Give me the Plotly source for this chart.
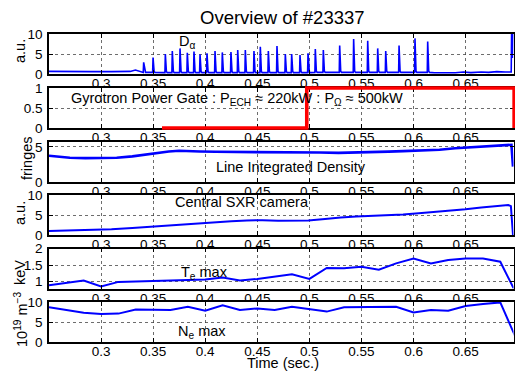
import plotly.graph_objects as go

# ---------------- data ----------------
x_tick_vals = [0.3, 0.35, 0.4, 0.45, 0.5, 0.55, 0.6, 0.65]
x_tick_text = ["0.3", "0.35", "0.4", "0.45", "0.5", "0.55", "0.6", "0.65"]

# D-alpha: baseline samples and ELM spikes
dalpha_base_t = [0.250, 0.262, 0.268, 0.272, 0.290, 0.310, 0.328, 0.333, 0.336, 0.339,
                 0.360, 0.400, 0.450, 0.500, 0.550, 0.600, 0.620, 0.640, 0.648,
                 0.655, 0.665, 0.672, 0.680, 0.688, 0.6938, 0.6942, 0.6950, 0.6955, 0.6965]
dalpha_base_v = [0.65, 0.6, 0.75, 0.6, 0.6, 0.6, 0.65, 1.0, 0.7, 0.4,
                 0.35, 0.35, 0.35, 0.4, 0.4, 0.4, 0.3, 0.3, 0.5,
                 0.35, 0.5, 0.4, 0.6, 0.5, 0.5, 11.0, 4.0, 11.0, 11.0]
dalpha_spike_t = [0.3409, 0.3499, 0.3617, 0.3684, 0.3758, 0.3828, 0.3892, 0.3950,
                  0.4017, 0.4094, 0.4164, 0.4247, 0.4312, 0.4385, 0.4468, 0.4529,
                  0.4606, 0.4689, 0.4769, 0.4830, 0.4910, 0.4987, 0.5057, 0.5134,
                  0.5291, 0.5425, 0.5560, 0.5656, 0.5733, 0.5861, 0.6014, 0.6136]
dalpha_spike_v = [2.9, 4.1, 5.0, 5.75, 6.4, 5.3, 5.6, 4.9,
                  5.2, 5.75, 5.4, 5.5, 6.0, 6.0, 5.75, 6.8,
                  5.75, 7.0, 5.0, 5.0, 4.75, 5.2, 6.25, 6.0,
                  7.1, 8.75, 8.3, 6.4, 5.75, 7.1, 8.9, 8.1]

# Gyrotron power gate
gate_t = [0.3585, 0.4975, 0.4975, 0.6966, 0.6966]
gate_v = [0, 0, 1, 1, 0]

# Line integrated density (fringes)
dens_t = [0.250, 0.258, 0.270, 0.285, 0.300, 0.315, 0.330, 0.345, 0.355, 0.365, 0.375,
          0.385, 0.395, 0.410, 0.427, 0.440, 0.455, 0.470, 0.496, 0.510, 0.528, 0.545,
          0.560, 0.576, 0.590, 0.608, 0.625, 0.640, 0.656, 0.672, 0.685, 0.694, 0.6955]
dens_v = [3.75, 3.6, 3.45, 3.4, 3.4, 3.45, 3.65, 3.95, 4.2, 4.35, 4.45,
          4.45, 4.35, 4.3, 4.3, 4.3, 4.3, 4.25, 4.25, 4.2, 4.15, 4.25,
          4.3, 4.33, 4.4, 4.48, 4.6, 4.8, 4.95, 5.05, 5.2, 5.3, 2.2]

# Central SXR camera
sxr_t = [0.250, 0.270, 0.290, 0.310, 0.330, 0.350, 0.365, 0.380, 0.395, 0.410, 0.425,
         0.440, 0.455, 0.470, 0.485, 0.499, 0.515, 0.530, 0.545, 0.560, 0.575, 0.590,
         0.605, 0.620, 0.635, 0.650, 0.665, 0.680, 0.691, 0.6935, 0.6955]
sxr_v = [1.0, 1.1, 1.25, 1.45, 1.75, 2.1, 2.45, 2.8, 3.05, 3.25, 3.45,
         3.65, 3.7, 3.55, 3.5, 3.6, 4.0, 4.4, 4.6, 4.75, 4.95, 5.15,
         5.45, 5.75, 6.05, 6.45, 6.9, 7.3, 7.5, 7.2, 0.0]

# Profile times (Te max, Ne max)
prof_t = [0.2500, 0.2667, 0.2833, 0.3000, 0.3167, 0.3333, 0.3500, 0.3667, 0.3833,
          0.4000, 0.4167, 0.4333, 0.4500, 0.4667, 0.4833, 0.5000, 0.5167, 0.5333,
          0.5500, 0.5667, 0.5833, 0.6000, 0.6167, 0.6333, 0.6500, 0.6667, 0.6833, 0.7000]
te_v = [0.89, 0.95, 1.03, 0.85, 0.99, 1.0, 1.01, 1.03, 1.05,
        1.06, 1.12, 1.03, 1.08, 1.15, 1.22, 1.08, 1.41, 1.40,
        1.45, 1.36, 1.55, 1.70, 1.55, 1.65, 1.70, 1.70, 1.60, 0.55]
ne_v = [8.7, 8.0, 7.3, 7.0, 7.1, 8.1, 8.1, 8.0, 8.8,
        7.8, 9.2, 8.0, 8.4, 8.0, 8.8, 8.2, 7.6, 8.7,
        8.7, 8.7, 8.8, 7.4, 8.0, 7.8, 9.0, 9.5, 9.9, 0.0]

# ---------------- layout geometry ----------------
W, H = 515, 372
ML, MR, MT, MB = 49, 0, 34, 30
PW, PH = W - ML - MR, H - MT - MB
X_RIGHT_PX = 513.5
PX_PER_UNIT = 1041.5
X0 = 0.25
x_range = [X0, X0 + (X_RIGHT_PX - ML) / PX_PER_UNIT]
x_domain = [0, (X_RIGHT_PX - ML) / PW]

FONT = "Liberation Sans, Arial, sans-serif"
TICK_SIZE = 13.5
TXT_SIZE = 14.5
BLUE = "#0000ff"
RED = "#ff0000"


def ydom(top_px, bot_px):
    return [(H - MB - bot_px) / PH, (H - MB - top_px) / PH]


def xp(px):
    return (px - ML) / PW


def yp(py):
    return (H - MB - py) / PH


panels = [
    # top, bottom, yrange, tickvals
    (34, 74, [0, 10], [0, 5, 10]),
    (88, 128, [0, 1], [0, 0.5, 1]),
    (142, 182, [0, 5.7], [0, 5]),
    (195, 235, [0, 10], [0, 5, 10]),
    (248.5, 288.5, [0.79, 2], [1, 1.5, 2]),
    (302, 342, [0, 10], [0, 5, 10]),
]
ytick_text = [["0", "5", "10"], ["0", "0.5", "1"], ["0", "5"], ["0", "5", "10"],
              ["1", "1.5", "2"], ["0", "5", "10"]]

fig = go.Figure()

# D-alpha trace composed from baseline and spikes
d_pts = list(zip(dalpha_base_t, dalpha_base_v))
for t, v in zip(dalpha_spike_t, dalpha_spike_v):
    foot = [bv for bt, bv in zip(dalpha_base_t, dalpha_base_v) if bt <= t][-1]
    d_pts += [(t - 0.0004, foot), (t, v), (t + 0.0010, foot + 0.3), (t + 0.0018, foot)]
d_pts.sort()
fig.add_trace(go.Scatter(x=[p[0] for p in d_pts], y=[p[1] for p in d_pts], mode="lines",
                         line=dict(color=BLUE, width=1.6), xaxis="x", yaxis="y"))
fig.add_trace(go.Scatter(x=dens_t, y=dens_v, mode="lines",
                         line=dict(color=BLUE, width=2.6), xaxis="x3", yaxis="y3"))
fig.add_trace(go.Scatter(x=sxr_t, y=sxr_v, mode="lines",
                         line=dict(color=BLUE, width=2), xaxis="x4", yaxis="y4"))
fig.add_trace(go.Scatter(x=prof_t, y=te_v, mode="lines",
                         line=dict(color=BLUE, width=2), xaxis="x5", yaxis="y5"))
fig.add_trace(go.Scatter(x=prof_t, y=ne_v, mode="lines",
                         line=dict(color=BLUE, width=2), xaxis="x6", yaxis="y6"))
# gate drawn on an unclipped overlay subplot (slightly larger domain)
fig.add_trace(go.Scatter(x=gate_t, y=gate_v, mode="lines",
                         line=dict(color=RED, width=3.6), xaxis="x7", yaxis="y7"))

axis_common = dict(showline=True, linecolor="black", linewidth=1.6, mirror="allticks",
                   ticks="inside", ticklen=4, tickwidth=1, tickcolor="black",
                   showgrid=True, gridcolor="rgba(60,60,60,0.75)", gridwidth=1, griddash="dot",
                   zeroline=False, tickfont=dict(family=FONT, size=TICK_SIZE, color="black"))

layout = dict(width=W, height=H, margin=dict(l=ML, r=MR, t=MT, b=MB),
              paper_bgcolor="white", plot_bgcolor="rgba(0,0,0,0)", showlegend=False,
              font=dict(family=FONT, color="black"))
shapes = []
for i, (top, bot, yr, tv) in enumerate(panels):
    k = i + 1
    xn = "xaxis" if k == 1 else f"xaxis{k}"
    yn = "yaxis" if k == 1 else f"yaxis{k}"
    xa = "x" if k == 1 else f"x{k}"
    ya = "y" if k == 1 else f"y{k}"
    layout[xn] = dict(axis_common, domain=x_domain, range=x_range, anchor=ya,
                      tickvals=x_tick_vals, ticktext=x_tick_text, ticklabelstandoff=-4)
    layout[yn] = dict(axis_common, domain=ydom(top, bot), range=yr, anchor=xa,
                      tickvals=tv, ticktext=ytick_text[i], ticklabelstandoff=2)
    if k > 1:
        shapes.append(dict(type="rect", xref=xa, yref=ya, x0=x_range[0], x1=x_range[1],
                           y0=yr[0], y1=yr[1], fillcolor="white", line=dict(width=0),
                           layer="below"))

# overlay subplot for gate line, extended by 4px vertically and to the paper edge
ext = 4
t2, b2 = panels[1][0], panels[1][1]
span = b2 - t2
layout["xaxis7"] = dict(domain=[0, 1], range=[X0, X0 + PW / PX_PER_UNIT], anchor="y7",
                        visible=False, showgrid=False, zeroline=False)
layout["yaxis7"] = dict(domain=ydom(t2 - ext, b2 + ext),
                        range=[-ext / span, 1 + ext / span], anchor="x7",
                        visible=False, showgrid=False, zeroline=False)

ann = []
def txt(text, x, y, xanchor="center", size=TXT_SIZE, angle=0):
    ann.append(dict(text=text, x=xp(x), y=yp(y), xref="paper", yref="paper",
                    xanchor=xanchor, yanchor="middle", showarrow=False, textangle=angle,
                    font=dict(family=FONT, size=size, color="black")))

txt("Overview of #23337", 282.5, 18, size=18.5)
txt("D<sub>α</sub>", 187, 42)
txt("Gyrotron Power Gate : P<sub>ECH</sub> ≈ 220kW : P<sub>Ω</sub> ≈ 500kW", 69, 99, xanchor="left")
txt("Line Integrated Density", 290.5, 167)
txt("Central SXR camera", 173, 202, xanchor="left")
txt("T<sub>e</sub> max", 179, 273, xanchor="left")
txt("N<sub>e</sub> max", 176, 332, xanchor="left")
txt("Time (sec.)", 282.5, 363)
txt("a.u.", 20, 51, angle=-90)
txt("fringes", 27, 158, angle=-90)
txt("a.u.", 20, 213, angle=-90)
txt("keV", 20, 273, angle=-90)
txt("10<sup>19</sup> m<sup>−3</sup>", 21, 320, angle=-90)

layout["annotations"] = ann
layout["shapes"] = shapes
fig.update_layout(**layout)
fig.write_html("out.html")
